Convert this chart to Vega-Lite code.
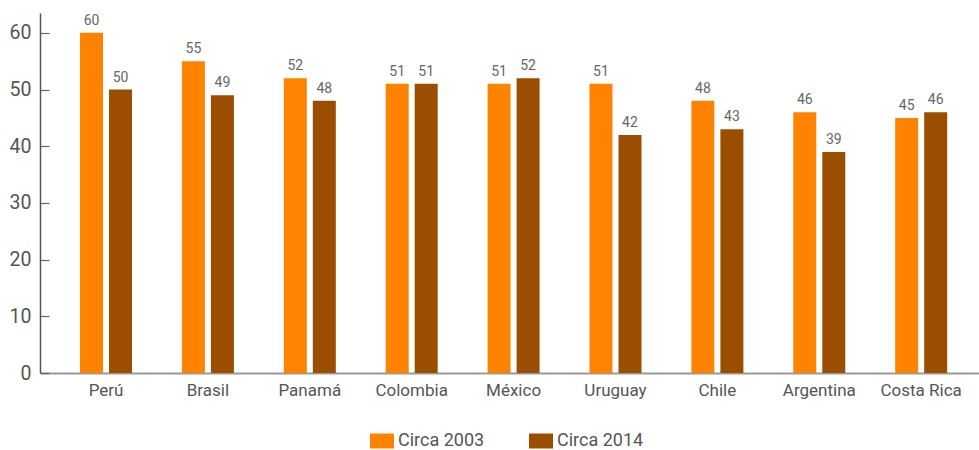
{
  "$schema": "https://vega.github.io/schema/vega-lite/v6.json",
  "width": 939,
  "height": 360,
  "autosize": {"type": "none"},
  "padding": {"left": 40, "top": 13, "right": 0, "bottom": 77},
  "background": "white",
  "config": {"view": {"stroke": null}, "font": "Roboto"},
  "data": {"values": [
    {"country": "Perú", "series": "Circa 2003", "value": 60},
    {"country": "Perú", "series": "Circa 2014", "value": 50},
    {"country": "Brasil", "series": "Circa 2003", "value": 55},
    {"country": "Brasil", "series": "Circa 2014", "value": 49},
    {"country": "Panamá", "series": "Circa 2003", "value": 52},
    {"country": "Panamá", "series": "Circa 2014", "value": 48},
    {"country": "Colombia", "series": "Circa 2003", "value": 51},
    {"country": "Colombia", "series": "Circa 2014", "value": 51},
    {"country": "México", "series": "Circa 2003", "value": 51},
    {"country": "México", "series": "Circa 2014", "value": 52},
    {"country": "Uruguay", "series": "Circa 2003", "value": 51},
    {"country": "Uruguay", "series": "Circa 2014", "value": 42},
    {"country": "Chile", "series": "Circa 2003", "value": 48},
    {"country": "Chile", "series": "Circa 2014", "value": 43},
    {"country": "Argentina", "series": "Circa 2003", "value": 46},
    {"country": "Argentina", "series": "Circa 2014", "value": 39},
    {"country": "Costa Rica", "series": "Circa 2003", "value": 45},
    {"country": "Costa Rica", "series": "Circa 2014", "value": 46}
  ]},
  "encoding": {
    "x": {
      "field": "country", "type": "nominal", "sort": null,
      "scale": {"paddingInner": 0.4897, "paddingOuter": 0.3525, "align": 0.557},
      "axis": {"title": null, "labelAngle": 0, "ticks": false, "domainColor": "#999", "domainWidth": 2,
               "labelFont": "Roboto", "labelFontSize": 17, "labelColor": "#555", "labelPadding": 9}
    },
    "xOffset": {"field": "series", "type": "nominal", "scale": {"paddingInner": 0.207, "paddingOuter": 0}},
    "y": {
      "field": "value", "type": "quantitative",
      "scale": {"domain": [0, 63.5], "nice": false},
      "axis": {"title": null, "values": [0, 10, 20, 30, 40, 50, 60], "grid": false, "ticks": true,
               "domainColor": "#555", "domainWidth": 1.5, "tickColor": "#666", "tickWidth": 1.2, "tickSize": -9,
               "labelFont": "Roboto", "labelFontSize": 19.5, "labelColor": "#555", "labelPadding": 18}
    }
  },
  "layer": [
    {
      "mark": {"type": "bar"},
      "encoding": {
        "color": {
          "field": "series", "type": "nominal",
          "scale": {"domain": ["Circa 2003", "Circa 2014"], "range": ["#FF8300", "#9B4E00"]},
          "legend": {"title": null, "orient": "none", "direction": "horizontal", "legendX": 333, "legendY": 419,
                     "symbolType": "M-1.6,-1H1.6V1H-1.6Z", "symbolSize": 225, "symbolStrokeWidth": 0, "symbolOpacity": 1,
                     "labelOffset": 7, "columnPadding": 44, "labelFont": "Roboto", "labelFontSize": 18, "labelColor": "#555", "labelLimit": 200}
        }
      }
    },
    {
      "mark": {"type": "text", "baseline": "bottom", "dy": -5, "fontSize": 14, "font": "Roboto", "color": "#666"},
      "encoding": {"text": {"field": "value", "type": "quantitative"}}
    }
  ]
}
